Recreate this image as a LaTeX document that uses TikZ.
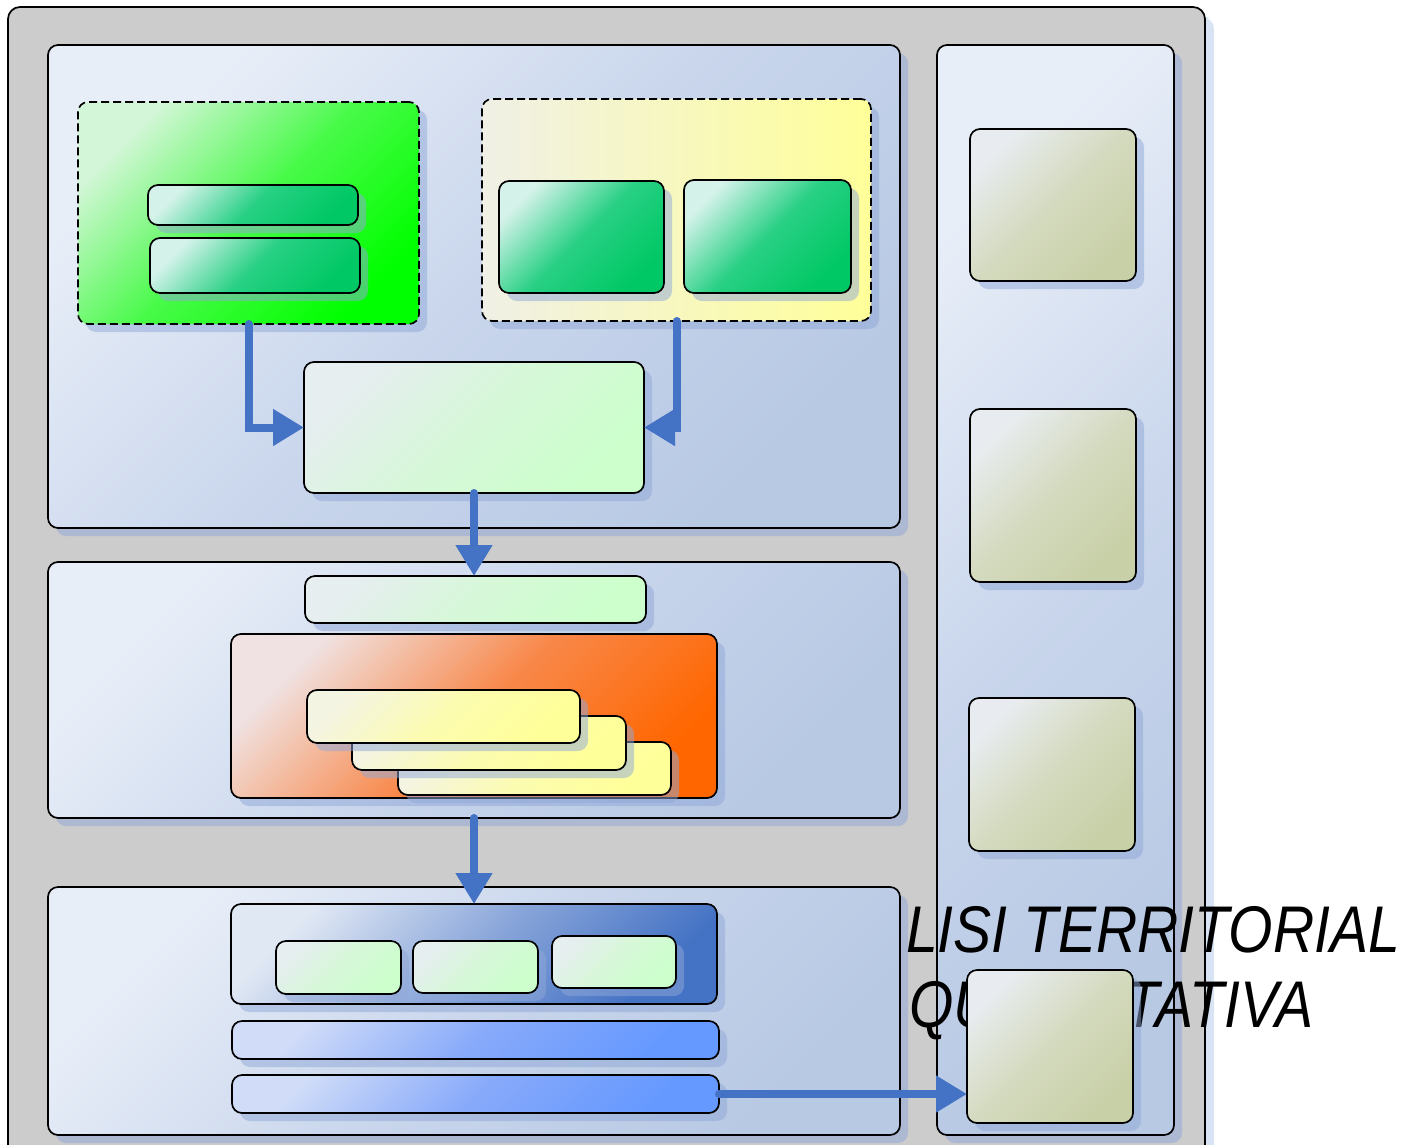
\documentclass[tikz,border=0pt]{standalone}
\usepackage{fontspec}
\newfontfamily\titlefont{Liberation Sans}
\usetikzlibrary{arrows.meta,shadows}

\definecolor{panelgray}{HTML}{CCCCCC}
\definecolor{shadowblue}{HTML}{90A8D8}
\definecolor{edgeblue}{HTML}{D8E4F4}
\definecolor{flowblue}{HTML}{4472C4}
\definecolor{paneltop}{HTML}{E8EEF8}
\definecolor{panelmid}{HTML}{C9D6EC}
\definecolor{panelend}{HTML}{B8C9E4}
\definecolor{greentop}{HTML}{D4F6D8}
\definecolor{greenmid}{HTML}{48FA48}
\definecolor{greenend}{HTML}{00FF00}
\definecolor{tealtop}{HTML}{D4F2EA}
\definecolor{tealmid}{HTML}{28D084}
\definecolor{tealend}{HTML}{00C864}
\definecolor{ylwtop}{HTML}{F0F0E6}
\definecolor{ylwend}{HTML}{FFFF99}
\definecolor{mintop}{HTML}{E6EEF0}
\definecolor{mintmid}{HTML}{D6F8D8}
\definecolor{mintend}{HTML}{CCFFCC}
\definecolor{orgtop}{HTML}{F0E2E2}
\definecolor{orgmid}{HTML}{F8884A}
\definecolor{orgend}{HTML}{FF6600}
\definecolor{stktop}{HTML}{F4F4E2}
\definecolor{stkmid}{HTML}{FCFCB0}
\definecolor{dktop}{HTML}{E0E8F4}
\definecolor{dkmid}{HTML}{8AA6DA}
\definecolor{bartop}{HTML}{D0DCF8}
\definecolor{barmid}{HTML}{88AAFA}
\definecolor{barend}{HTML}{6699FF}
\definecolor{olvtop}{HTML}{E8ECF0}
\definecolor{olvmid}{HTML}{D4DABE}
\definecolor{olvend}{HTML}{C8D0A8}

\begin{document}
\begin{tikzpicture}[x=1pt, y=-1pt,
	box/.style={draw=black, line width=1.7pt, rounded corners=10pt, inner sep=0pt, outer sep=0pt,
		general shadow={fill=shadowblue, opacity=0.5, shadow xshift=8pt, shadow yshift=-8pt}},
	sz/.style 2 args={minimum width=#1pt, minimum height=#2pt},
	diag/.style n args={3}{top color=#1, bottom color=#3, middle color=#2, shading angle=45},
	panel/.style={box, diag={paneltop}{panelmid}{panelend}},
	dashbox/.style={box, dash pattern=on 8pt off 4pt},
	teal/.style={box, diag={tealtop}{tealmid}{tealend}},
	mint/.style={box, diag={mintop}{mintmid}{mintend}},
	stack/.style={box, diag={stktop}{stkmid}{ylwend}},
	bar/.style={box, diag={bartop}{barmid}{barend}},
	olv/.style={box, diag={olvtop}{olvmid}{olvend}},
	title/.style={anchor=base west, inner sep=0pt, font=\titlefont\itshape\fontsize{66}{75}\selectfont},
	flow/.style={draw=flowblue, line width=8pt, line cap=round, -{Triangle[length=31pt,width=35pt]}}
]
	\useasboundingbox (0,0) rectangle (1403,1144);

	%background
	\fill[edgeblue, rounded corners=12pt] (1199,17) rectangle (1214,1170);
	\draw[fill=panelgray, line width=1.7pt, rounded corners=12pt] (8,1170) -- (8,7) -- (1205,7) -- (1205,1170);

	%panels
	\node (top) [panel, sz={852}{483}] at (474,286.5) {};
	\node (mid) [panel, sz={852}{256}] at (474,690) {};
	\node (bot) [panel, sz={852}{248}] at (474,1011) {};
	\node (side) [panel, sz={237}{1090}] at (1055.5,590) {};

	%top panel
	\node (grp) [dashbox, sz={341}{222}, diag={greentop}{greenmid}{greenend}] at (248.5,213) {};
	\node (bara) [teal, sz={210}{40}] at (253,205) {};
	\node (barb) [teal, sz={210}{55}] at (255,265.5) {};

	\node (ybox) [dashbox, sz={389}{222}, left color=ylwtop, right color=ylwend] at (676.5,210) {};
	\node (tl) [teal, sz={165}{112}] at (581.5,237) {};
	\node (tr) [teal, sz={167}{113}] at (767.5,236.5) {};

	\node (merge) [mint, sz={340}{131}] at (474,427.5) {};

	%middle panel
	\node (lbar) [mint, sz={341}{47}] at (475.5,599.5) {};
	\node (org) [box, sz={486}{164}, diag={orgtop}{orgmid}{orgend}] at (474,716) {};
	\node (yc) [stack, sz={273}{53}] at (534.5,768.5) {};
	\node (yb) [stack, sz={274}{54}] at (489,743) {};
	\node (ya) [stack, sz={273}{53}] at (443.5,716.5) {};

	%bottom panel
	\node (dk) [box, sz={486}{100}, diag={dktop}{dkmid}{flowblue}] at (474,954) {};
	\node (ga) [mint, sz={125}{53}] at (338.5,967.5) {};
	\node (gb) [mint, sz={125}{52}] at (475.5,967) {};
	\node (gc) [mint, sz={124}{52}] at (614,962) {};
	\node (bbar) [bar, sz={487}{38}] at (475.5,1040) {};
	\node (cbar) [bar, sz={487}{38}] at (475.5,1094) {};

	%side panel
	\node (oa) [olv, sz={166}{152}] at (1053,205) {};
	\node (ob) [olv, sz={166}{173}] at (1053,495.5) {};
	\node (oc) [olv, sz={166}{153}] at (1052,774.5) {};

	\node (ttla) [title] at (906,952) {\scalebox{0.865}[1]{LISI TERRITORIAL}};
	\node (ttlb) [title] at (909,1027) {\scalebox{0.865}[1]{QUANTITATIVA}};

	\node (od) [olv, sz={166}{153}] at (1050,1046.5) {};

	%arrows
	\draw[flow] (grp.south) |- (merge.west);
	\draw[flow] (ybox.south) |- (merge.east);
	\draw[flow] (merge.south) -- (merge.south |- lbar.north);
	\draw[flow] (mid.south) -- (dk.north);
	\draw[flow] (cbar.east) -- (cbar.east -| od.west);
\end{tikzpicture}
\end{document}
